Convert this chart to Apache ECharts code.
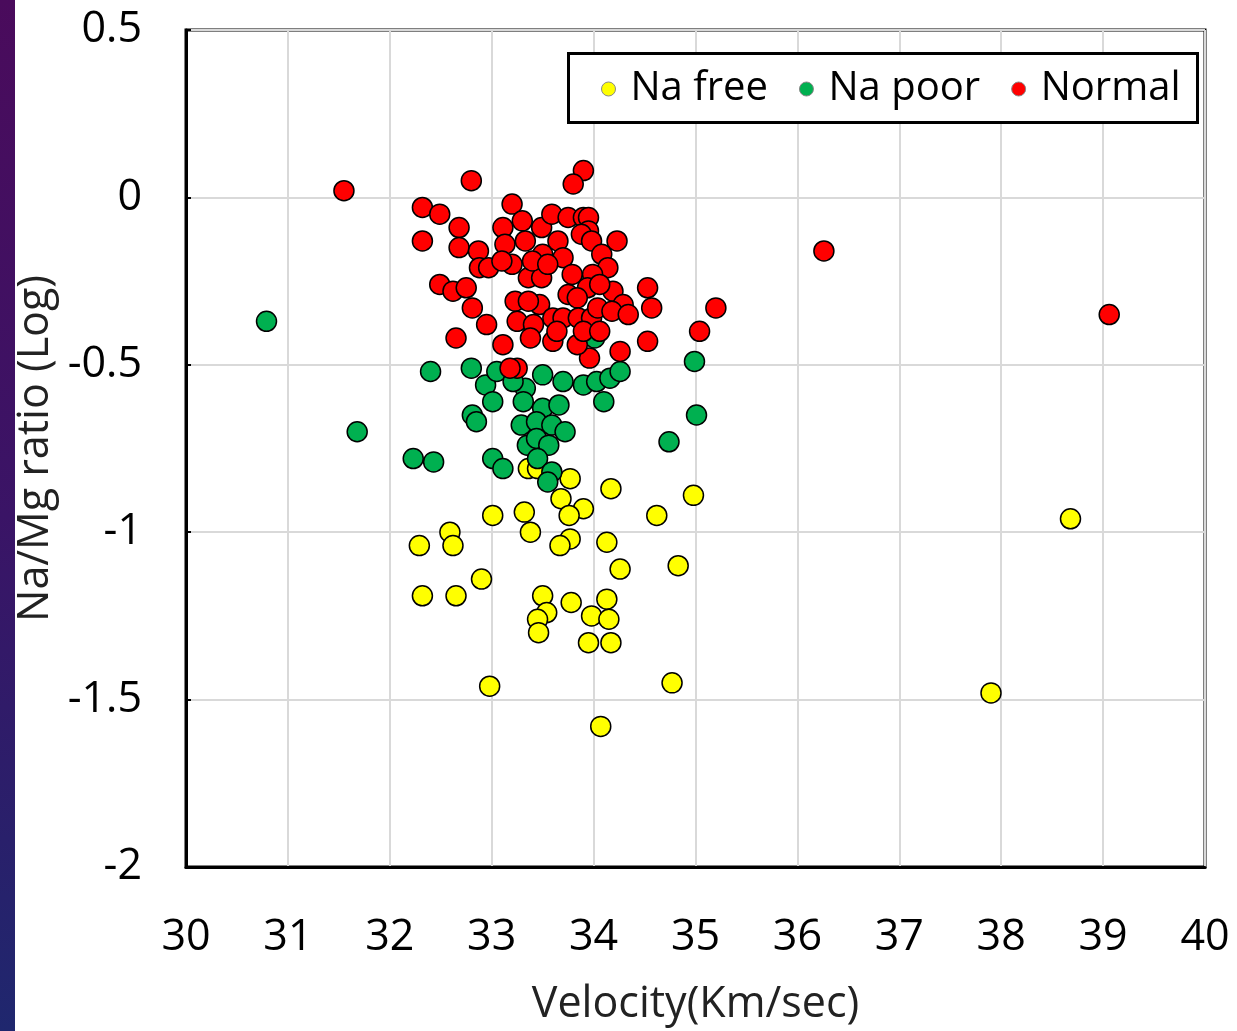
<!DOCTYPE html>
<html>
<head>
<meta charset="utf-8">
<script src="https://cdn.jsdelivr.net/npm/echarts@6/dist/echarts.min.js"></script>
<style>html,body{margin:0;padding:0;background:#fff;}#c{width:1237px;height:1031px;}</style>
</head>
<body>
<div id="c"></div>
<script>
// Na free (yellow): [velocity, log Na/Mg]
const naFree = [
  [32.29,-1.04],[32.32,-1.19],[32.59,-1.00],[32.62,-1.04],[32.65,-1.19],[32.90,-1.14],
  [32.98,-1.46],[33.01,-0.95],[33.32,-0.94],[33.38,-1.00],[33.36,-0.81],[33.45,-0.81],
  [33.50,-1.19],[33.54,-1.24],[33.45,-1.26],[33.46,-1.30],[33.68,-0.90],[33.77,-0.84],
  [33.90,-0.93],[33.76,-0.95],[33.77,-1.02],[33.67,-1.04],[33.78,-1.21],[33.98,-1.25],
  [33.95,-1.33],[34.07,-1.58],[34.13,-1.03],[34.13,-1.20],[34.15,-1.26],[34.17,-1.33],
  [34.17,-0.87],[34.26,-1.11],[34.62,-0.95],[34.77,-1.45],[34.83,-1.10],[34.98,-0.89],
  [37.90,-1.48],[38.68,-0.96]
];
// Na poor (green)
const naPoor = [
  [30.79,-0.37],[31.68,-0.70],[32.23,-0.78],[32.43,-0.79],[32.40,-0.52],[32.80,-0.51],
  [32.94,-0.56],[33.01,-0.61],[33.05,-0.52],[32.81,-0.65],[32.85,-0.67],[33.01,-0.78],
  [33.11,-0.81],[33.50,-0.53],[33.70,-0.55],[33.90,-0.56],[34.03,-0.55],[34.16,-0.54],
  [34.26,-0.52],[34.10,-0.61],[33.33,-0.57],[33.21,-0.55],[33.31,-0.61],[33.50,-0.63],
  [33.66,-0.62],[33.29,-0.68],[33.44,-0.67],[33.59,-0.68],[33.72,-0.70],[33.35,-0.74],
  [33.44,-0.72],[33.56,-0.74],[33.45,-0.78],[33.59,-0.82],[33.55,-0.85],[34.74,-0.73],
  [34.99,-0.49],[35.01,-0.65],[34.01,-0.42]
];
// Normal (red)
const normal = [
  [31.55,0.02],[32.80,0.05],[33.90,0.08],[33.80,0.04],[32.32,-0.03],[32.49,-0.05],
  [32.68,-0.09],[32.32,-0.13],[32.68,-0.15],[32.87,-0.16],[32.88,-0.21],[32.97,-0.21],
  [33.20,-0.02],[33.11,-0.09],[33.30,-0.07],[33.13,-0.14],[33.33,-0.13],[33.20,-0.20],
  [33.36,-0.24],[33.49,-0.24],[33.49,-0.09],[33.59,-0.05],[33.75,-0.06],[33.90,-0.06],
  [33.95,-0.06],[33.95,-0.10],[33.88,-0.11],[33.65,-0.13],[33.50,-0.17],[33.70,-0.18],
  [33.79,-0.23],[33.98,-0.13],[34.23,-0.13],[34.08,-0.17],[34.14,-0.21],[33.99,-0.23],
  [33.94,-0.27],[33.75,-0.29],[33.84,-0.30],[32.49,-0.26],[32.62,-0.28],[32.75,-0.27],
  [32.81,-0.33],[32.95,-0.38],[32.65,-0.42],[33.23,-0.31],[33.47,-0.32],[33.25,-0.37],
  [33.41,-0.38],[33.60,-0.36],[33.70,-0.36],[33.85,-0.36],[33.98,-0.36],[34.04,-0.33],
  [34.19,-0.28],[34.29,-0.32],[34.18,-0.34],[34.34,-0.35],[34.53,-0.27],[34.57,-0.33],
  [34.53,-0.43],[34.26,-0.46],[33.96,-0.48],[33.84,-0.44],[33.60,-0.43],[33.38,-0.42],
  [33.11,-0.44],[33.25,-0.51],[33.18,-0.51],[36.26,-0.16],[39.06,-0.35],[35.20,-0.33],
  [35.04,-0.40],[33.40,-0.19],[33.55,-0.20],[34.06,-0.26],[33.90,-0.40],[33.64,-0.40],
  [34.06,-0.40],[33.36,-0.31],[33.10,-0.19]
];
const seriesNames = ['Na free', 'Na poor', 'Normal'];
const seriesColors = ['#ffff00', '#00b050', '#ff0000'];
const xName = 'Velocity(Km/sec)';
const yName = 'Na/Mg ratio (Log)';

const FONT = '"Open Sans", sans-serif';
const chart = echarts.init(document.getElementById('c'), null, {renderer: 'canvas'});
const mk = (name, data, color) => ({
  name, type: 'scatter', data, symbol: 'circle', symbolSize: 20,
  itemStyle: {color, borderColor: '#000', borderWidth: 1.5, opacity: 1},
  emphasis: {disabled: true}
});
chart.setOption({
  animation: false,
  backgroundColor: '#fff',
  graphic: [
    {type: 'rect', left: 0, top: 0, shape: {width: 15, height: 1031}, z: 100,
     style: {fill: new echarts.graphic.LinearGradient(0, 0, 0, 1, [
       {offset: 0, color: '#4a0b5c'}, {offset: 0.5, color: '#3a1466'}, {offset: 1, color: '#1f276e'}])}},
    {type: 'rect', left: 567, top: 52, z: 50,
     shape: {width: 629, height: 69}, style: {fill: '#fff', stroke: '#000', lineWidth: 3}}
  ],
  grid: {left: 186, right: 32, top: 30, bottom: 164, outerBoundsMode: 'none', containLabel: false,
         show: true, borderColor: '#000', borderWidth: 3, backgroundColor: 'transparent'},
  legend: {
    left: 596, top: 64, z: 60, itemWidth: 14, itemHeight: 14, itemGap: 31,
    icon: 'circle',
    itemStyle: {borderColor: '#888', borderWidth: 1},
    textStyle: {fontFamily: FONT, fontSize: 40, color: '#000', padding: [0, 0, 0, 10]},
    data: seriesNames
  },
  xAxis: {
    type: 'value', min: 30, max: 40, interval: 1,
    name: xName, nameLocation: 'middle', nameGap: 116,
    nameTextStyle: {fontFamily: FONT, fontSize: 43, color: '#222'},
    axisLine: {show: true, onZero: false, lineStyle: {color: '#000', width: 3}},
    axisTick: {show: false},
    axisLabel: {fontFamily: FONT, fontSize: 43, color: '#000', margin: 49},
    splitLine: {show: true, lineStyle: {color: '#d9d9d9', width: 2}}
  },
  yAxis: {
    type: 'value', min: -2, max: 0.5, interval: 0.5,
    name: yName, nameLocation: 'middle', nameGap: 128, nameRotate: 90,
    nameTextStyle: {fontFamily: FONT, fontSize: 43, color: '#222'},
    axisLine: {show: true, onZero: false, lineStyle: {color: '#000', width: 3}},
    axisTick: {show: true, inside: true, length: 5, lineStyle: {color: '#000', width: 2}},
    axisLabel: {fontFamily: FONT, fontSize: 43, color: '#000', margin: 44},
    splitLine: {show: true, lineStyle: {color: '#d9d9d9', width: 2}}
  },
  series: [
    mk(seriesNames[0], naFree, seriesColors[0]),
    mk(seriesNames[1], naPoor, seriesColors[1]),
    mk(seriesNames[2], normal, seriesColors[2])
  ]
});
</script>
</body>
</html>
